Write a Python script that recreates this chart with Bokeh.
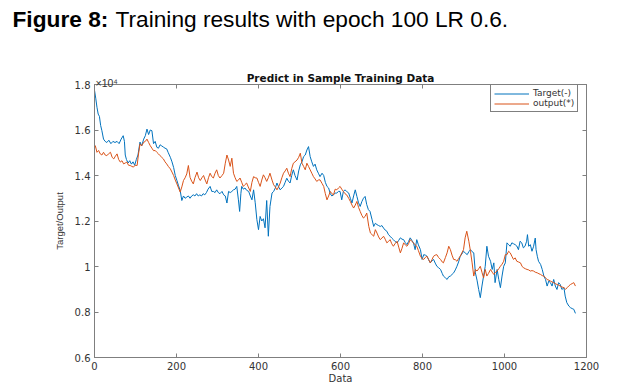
from bokeh.plotting import figure
from bokeh.models import (Legend, LegendItem, LinearAxis, Label, Range1d,
                          FixedTicker, CustomJSTickFormatter)
from bokeh.embed import file_html
from bokeh.resources import INLINE

# ---------------- data (values in units of 10^4) ----------------
x_ticks = [0, 200, 400, 600, 800, 1000, 1200]
y_ticks = [0.6, 0.8, 1.0, 1.2, 1.4, 1.6, 1.8]

target_x = [0, 3, 6, 9, 12, 15, 18, 22, 26, 30, 35, 40, 45, 50, 55, 60, 65, 70, 73, 75,
            78, 82, 86, 90, 94, 98, 102, 106, 111, 115, 120, 124, 128, 132, 136, 140, 144, 148, 152, 156,
            160, 164, 168, 172, 176, 180, 185, 189, 193, 197, 201, 205, 209, 213, 217, 221, 225, 229, 233, 237,
            241, 245, 249, 253, 257, 261, 265, 269, 273, 277, 282, 286, 290, 294, 298, 302, 306, 311, 315, 319,
            323, 327, 331, 335, 339, 343, 347, 351, 354, 357, 359, 363, 367, 371, 376, 380, 384, 388, 392, 396,
            400, 404, 408, 412, 416, 420, 424, 428, 433, 437, 441, 445, 449, 453, 457, 461, 465, 469, 473, 477,
            481, 485, 489, 494, 498, 502, 506, 510, 514, 518, 522, 526, 530, 534, 538, 542, 546, 550, 555, 559,
            563, 567, 571, 575, 579, 583, 587, 591, 595, 599, 603, 607, 611, 615, 620, 624, 628, 632, 636, 640,
            644, 648, 652, 656, 660, 664, 668, 672, 677, 681, 685, 689, 693, 697, 701, 705, 709, 713, 717, 721,
            725, 729, 733, 738, 742, 746, 750, 754, 758, 762, 766, 770, 774, 778, 782, 786, 790, 795, 799, 803,
            807, 811, 815, 819, 823, 827, 831, 835, 839, 844, 848, 851, 856, 860, 864, 868, 872, 876, 880, 884,
            888, 892, 896, 900, 904, 909, 913, 917, 921, 925, 929, 933, 937, 941, 945, 949, 953, 957, 961, 966,
            970, 974, 977, 982, 986, 990, 994, 998, 1002, 1006, 1010, 1014, 1018, 1022, 1026, 1030, 1034, 1038, 1042, 1046,
            1050, 1054, 1056, 1059, 1063, 1067, 1071, 1075, 1077, 1080, 1083, 1088, 1092, 1096, 1100, 1104, 1108, 1112, 1116, 1120,
            1124, 1128, 1132, 1136, 1140, 1145, 1148, 1152, 1157, 1161, 1165, 1169, 1173]
target_y = [1.775, 1.74, 1.70, 1.67, 1.66, 1.62, 1.597, 1.56, 1.55, 1.545, 1.555, 1.54, 1.55, 1.545, 1.55, 1.54, 1.56, 1.575, 1.55, 1.49,
            1.47, 1.455, 1.465, 1.45, 1.46, 1.445, 1.47, 1.49, 1.547, 1.53, 1.56, 1.575, 1.604, 1.58, 1.60, 1.597, 1.54, 1.55, 1.524, 1.52,
            1.535, 1.53, 1.525, 1.52, 1.517, 1.50, 1.48, 1.46, 1.435, 1.40, 1.378, 1.355, 1.334, 1.29, 1.31, 1.30, 1.305, 1.31, 1.30, 1.31,
            1.315, 1.31, 1.32, 1.31, 1.315, 1.31, 1.32, 1.315, 1.325, 1.34, 1.352, 1.33, 1.33, 1.325, 1.337, 1.325, 1.32, 1.33, 1.315, 1.31,
            1.279, 1.33, 1.325, 1.33, 1.337, 1.34, 1.352, 1.293, 1.242, 1.32, 1.352, 1.34, 1.345, 1.335, 1.33, 1.31, 1.293, 1.337, 1.28, 1.206,
            1.162, 1.22, 1.20, 1.21, 1.17, 1.29, 1.133, 1.264, 1.323, 1.33, 1.345, 1.367, 1.35, 1.337, 1.345, 1.352, 1.37, 1.388, 1.375, 1.367,
            1.40, 1.425, 1.40, 1.38, 1.42, 1.447, 1.46, 1.483, 1.49, 1.512, 1.527, 1.483, 1.46, 1.44, 1.45, 1.425, 1.41, 1.395, 1.41, 1.40,
            1.37, 1.352, 1.345, 1.32, 1.31, 1.315, 1.323, 1.323, 1.33, 1.33, 1.293, 1.33, 1.337, 1.33, 1.323, 1.30, 1.279, 1.31, 1.337, 1.308,
            1.28, 1.264, 1.285, 1.30, 1.308, 1.272, 1.25, 1.242, 1.206, 1.176, 1.19, 1.184, 1.18, 1.176, 1.18, 1.169, 1.16, 1.155, 1.14, 1.133,
            1.125, 1.118, 1.11, 1.104, 1.115, 1.126, 1.12, 1.118, 1.105, 1.096, 1.11, 1.126, 1.115, 1.104, 1.074, 1.118, 1.095, 1.074, 1.031, 1.052,
            1.05, 1.045, 1.03, 1.016, 1.025, 1.031, 1.015, 1.001, 0.995, 0.987, 0.97, 0.958, 0.95, 0.943, 0.955, 0.958, 0.965, 0.972, 0.985, 1.001,
            1.02, 1.045, 1.055, 1.067, 1.06, 1.052, 1.065, 1.074, 1.065, 1.06, 0.972, 0.94, 0.899, 0.863, 0.914, 0.958, 1.001, 1.089, 1.045, 1.023,
            0.987, 1.016, 0.929, 0.987, 0.943, 0.907, 0.958, 1.001, 1.016, 1.104, 1.096, 1.089, 1.104, 1.10, 1.096, 1.09, 1.074, 1.111, 1.104, 1.082,
            1.089, 1.111, 1.14, 1.089, 1.096, 1.067, 1.089, 1.125, 1.074, 1.045, 1.023, 1.009, 0.987, 0.958, 0.943, 0.914, 0.936, 0.929, 0.914, 0.943,
            0.914, 0.899, 0.929, 0.921, 0.899, 0.907, 0.870, 0.841, 0.826, 0.819, 0.815, 0.812, 0.794]

output_x = [0, 2, 6, 10, 14, 18, 22, 26, 30, 34, 39, 43, 47, 51, 55, 59, 63, 67, 71, 75,
            79, 83, 87, 91, 95, 99, 104, 107, 111, 115, 120, 124, 128, 132, 136, 140, 144, 148, 152, 156,
            160, 164, 168, 172, 176, 180, 185, 189, 193, 197, 201, 205, 209, 213, 217, 221, 225, 229, 233, 237,
            241, 245, 250, 254, 258, 262, 266, 270, 274, 278, 282, 286, 290, 294, 298, 302, 306, 311, 315, 319,
            323, 327, 331, 335, 339, 343, 347, 351, 355, 359, 363, 367, 371, 375, 380, 384, 388, 392, 396, 400,
            404, 408, 412, 416, 420, 424, 428, 433, 437, 441, 445, 449, 453, 457, 461, 465, 469, 473, 477, 481,
            485, 489, 494, 498, 502, 506, 510, 514, 518, 522, 526, 530, 534, 538, 542, 546, 550, 555, 559, 563,
            567, 571, 575, 579, 583, 587, 591, 595, 599, 603, 607, 611, 615, 620, 624, 628, 632, 636, 640, 644,
            648, 652, 656, 660, 664, 669, 673, 677, 681, 685, 689, 693, 697, 701, 705, 709, 713, 717, 721, 725,
            729, 733, 738, 742, 746, 750, 754, 758, 762, 766, 770, 774, 778, 782, 786, 790, 795, 799, 803, 807,
            811, 815, 819, 823, 827, 831, 835, 839, 844, 848, 851, 856, 860, 864, 868, 872, 876, 880, 884, 888,
            892, 896, 900, 904, 908, 913, 917, 921, 925, 929, 933, 937, 941, 945, 949, 953, 957, 961, 966, 970,
            974, 978, 982, 986, 990, 994, 998, 1002, 1006, 1010, 1014, 1018, 1022, 1026, 1030, 1034, 1039, 1043, 1047, 1051,
            1055, 1059, 1063, 1067, 1071, 1075, 1080, 1084, 1088, 1092, 1096, 1100, 1104, 1108, 1112, 1116, 1120, 1124, 1128, 1132,
            1136, 1140, 1145, 1149, 1153, 1157, 1161, 1165, 1169, 1173]
output_y = [1.52, 1.531, 1.502, 1.51, 1.495, 1.49, 1.502, 1.49, 1.487, 1.495, 1.502, 1.48, 1.473, 1.485, 1.495, 1.47, 1.459, 1.465, 1.451, 1.455,
            1.459, 1.445, 1.444, 1.44, 1.437, 1.445, 1.444, 1.49, 1.539, 1.53, 1.546, 1.55, 1.56, 1.545, 1.531, 1.52, 1.509, 1.51, 1.502, 1.495,
            1.487, 1.48, 1.473, 1.46, 1.451, 1.44, 1.429, 1.415, 1.40, 1.38, 1.363, 1.345, 1.327, 1.35, 1.378, 1.39, 1.407, 1.444, 1.392, 1.375,
            1.363, 1.39, 1.415, 1.39, 1.378, 1.39, 1.40, 1.38, 1.363, 1.39, 1.41, 1.395, 1.389, 1.41, 1.425, 1.40, 1.389, 1.40, 1.41, 1.454,
            1.49, 1.468, 1.44, 1.476, 1.41, 1.39, 1.374, 1.38, 1.389, 1.37, 1.352, 1.36, 1.367, 1.35, 1.33, 1.37, 1.395, 1.39, 1.389, 1.37,
            1.352, 1.38, 1.403, 1.39, 1.374, 1.39, 1.41, 1.38, 1.359, 1.35, 1.337, 1.35, 1.367, 1.39, 1.41, 1.42, 1.432, 1.41, 1.395, 1.43,
            1.454, 1.46, 1.468, 1.48, 1.498, 1.454, 1.44, 1.425, 1.454, 1.44, 1.425, 1.41, 1.395, 1.385, 1.374, 1.38, 1.381, 1.365, 1.352, 1.32,
            1.293, 1.31, 1.33, 1.32, 1.315, 1.34, 1.337, 1.345, 1.352, 1.34, 1.33, 1.32, 1.315, 1.30, 1.286, 1.27, 1.257, 1.27, 1.286, 1.26,
            1.242, 1.225, 1.213, 1.22, 1.235, 1.176, 1.147, 1.14, 1.133, 1.162, 1.147, 1.13, 1.118, 1.125, 1.133, 1.12, 1.104, 1.11, 1.118, 1.10,
            1.089, 1.10, 1.111, 1.085, 1.06, 1.08, 1.104, 1.095, 1.089, 1.10, 1.118, 1.11, 1.104, 1.095, 1.089, 1.07, 1.045, 1.035, 1.031, 1.04,
            1.045, 1.03, 1.016, 1.03, 1.045, 1.05, 1.052, 1.04, 1.031, 1.02, 1.016, 1.04, 1.06, 1.089, 1.074, 1.05, 1.031, 1.03, 1.023, 1.035,
            1.045, 1.06, 1.074, 1.126, 1.155, 1.111, 1.067, 1.016, 0.958, 0.987, 0.98, 0.99, 1.001, 0.975, 0.950, 0.987, 0.958, 0.97, 0.987, 0.975,
            0.965, 0.975, 0.98, 0.99, 1.001, 1.01, 1.023, 1.052, 1.052, 1.067, 1.06, 1.045, 1.031, 1.038, 1.023, 1.02, 1.016, 1.00, 0.994, 0.99,
            0.987, 0.985, 0.98, 0.982, 0.98, 0.975, 0.972, 0.968, 0.965, 0.96, 0.958, 0.95, 0.943, 0.94, 0.936, 0.932, 0.929, 0.925, 0.921, 0.918,
            0.914, 0.91, 0.907, 0.90, 0.907, 0.915, 0.921, 0.925, 0.929, 0.914]

series_labels = ["Target(-)", "output(*)"]

# ---------------- figure ----------------
AX = "#7f7f7f"
TXT = "#333333"
FONT = "DejaVu Sans"

p = figure(width=610, height=386, output_backend="svg", toolbar_location=None,
           x_range=Range1d(0, 1200), y_range=Range1d(0.6, 1.8),
           min_border_left=94, min_border_right=24, min_border_top=84, min_border_bottom=28)
p.xgrid.visible = False
p.ygrid.visible = False
p.outline_line_color = AX
p.background_fill_color = "white"
p.border_fill_color = "white"

yfmt = CustomJSTickFormatter(code="return (Math.round(tick*10)/10).toString();")
blank = CustomJSTickFormatter(code="return '';")

bottom_ax = p.below[0]
left_ax = p.left[0]
bottom_ax.ticker = FixedTicker(ticks=x_ticks)
left_ax.ticker = FixedTicker(ticks=y_ticks)
left_ax.formatter = yfmt

top_ax = LinearAxis(ticker=FixedTicker(ticks=x_ticks), formatter=blank)
right_ax = LinearAxis(ticker=FixedTicker(ticks=y_ticks), formatter=blank)
p.add_layout(top_ax, "above")
p.add_layout(right_ax, "right")

for ax in [bottom_ax, left_ax, top_ax, right_ax]:
    ax.axis_line_color = AX
    ax.major_tick_line_color = AX
    ax.major_tick_in = 4
    ax.major_tick_out = 0
    ax.minor_tick_line_color = None
    ax.major_label_text_color = TXT
    ax.major_label_text_font = FONT
    ax.major_label_text_font_size = "10px"
    ax.major_label_standoff = 4
for ax in [top_ax, right_ax]:
    ax.major_label_text_font_size = "1px"
    ax.major_label_standoff = 0

left_ax.axis_label = "Target/Output"
left_ax.axis_label_text_font = "Liberation Sans"
left_ax.axis_label_text_font_style = "normal"
left_ax.axis_label_text_font_size = "9.5px"
left_ax.axis_label_text_color = TXT
left_ax.axis_label_standoff = 7

bottom_ax.axis_label = "Data"
bottom_ax.axis_label_text_font = FONT
bottom_ax.axis_label_text_font_style = "normal"
bottom_ax.axis_label_text_font_size = "10px"
bottom_ax.axis_label_text_color = TXT
bottom_ax.axis_label_standoff = 0

r1 = p.line(target_x, target_y, line_color="#0072BD", line_width=1)
r2 = p.line(output_x, output_y, line_color="#D95319", line_width=1)

legend = Legend(items=[LegendItem(label=series_labels[0], renderers=[r1]),
                       LegendItem(label=series_labels[1], renderers=[r2])],
                location=(396, 245), orientation="vertical",
                border_line_color="black", border_line_width=1,
                padding=3, spacing=0, margin=0,
                glyph_width=35, glyph_height=9, label_height=9, label_standoff=4,
                label_text_font=FONT, label_text_font_size="9px", label_text_color=TXT,
                background_fill_color="white", background_fill_alpha=1)
p.add_layout(legend)

# texts placed in the top side panel (screen units, relative to each stacked panel)
p.add_layout(Label(x=246, y=7, x_units="screen", y_units="screen",
                   text="Predict in Sample Training Data",
                   text_font=FONT, text_font_style="bold", text_font_size="10.5px",
                   text_align="center", text_baseline="alphabetic", text_color="#111111"), "above")
p.add_layout(Label(x=1, y=-10, x_units="screen", y_units="screen", text="×10⁴",
                   text_font="Liberation Sans", text_font_size="10.5px",
                   text_align="left", text_baseline="alphabetic", text_color=TXT), "above")
p.add_layout(Label(x=-82, y=42, x_units="screen", y_units="screen", text="Figure 8:",
                   text_font="Liberation Sans", text_font_style="bold", text_font_size="22.7px",
                   text_align="left", text_baseline="alphabetic", text_color="black"), "above")
p.add_layout(Label(x=21, y=16, x_units="screen", y_units="screen",
                   text="Training results with epoch 100 LR 0.6.",
                   text_font="Liberation Sans", text_font_size="22.7px",
                   text_align="left", text_baseline="alphabetic", text_color="black"), "above")

open("out.html", "w").write(file_html(p, INLINE))
